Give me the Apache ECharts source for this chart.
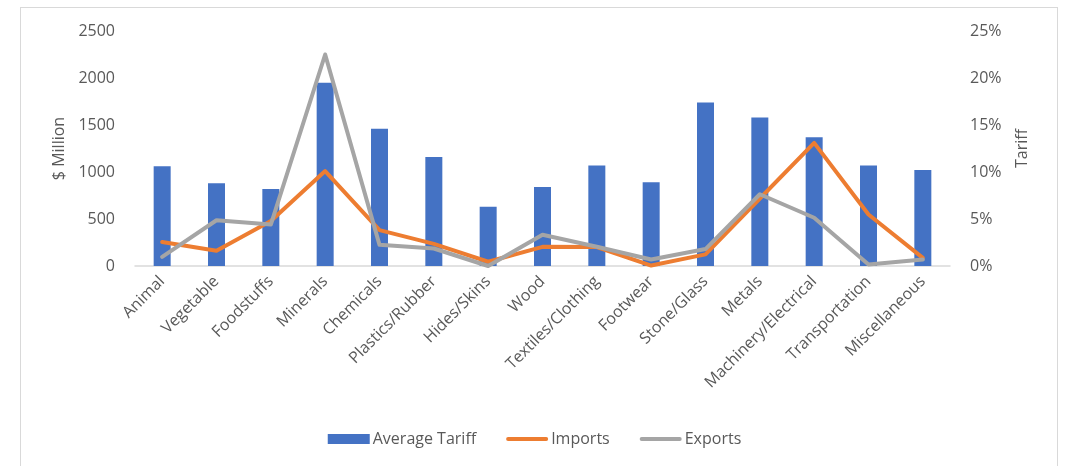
<!DOCTYPE html>
<html>
<head>
<meta charset="utf-8">
<script src="https://cdn.jsdelivr.net/npm/echarts@6/dist/echarts.min.js"></script>
<style>
  html, body { margin: 0; padding: 0; background: #fff; overflow: hidden; }
  #frame { position: absolute; left: 20px; top: 7px; width: 1038px; height: 480px; border: 1px solid #D9D9D9; box-sizing: border-box; }
  #chart { position: absolute; left: 0; top: 0; width: 1069px; height: 466px; }
</style>
</head>
<body>
<div id="frame"></div>
<div id="chart"></div>
<script>
// Product groups along the x axis
const categories = ['Animal', 'Vegetable', 'Foodstuffs', 'Minerals', 'Chemicals', 'Plastics/Rubber',
  'Hides/Skins', 'Wood', 'Textiles/Clothing', 'Footwear', 'Stone/Glass', 'Metals',
  'Machinery/Electrical', 'Transportation', 'Miscellaneous'];

// Average tariff, percent (right axis)
const averageTariff = [10.6, 8.8, 8.2, 19.5, 14.6, 11.6, 6.3, 8.4, 10.7, 8.9, 17.4, 15.8, 13.7, 10.7, 10.2];

// Trade flows, $ million (left axis)
const imports = [255, 162, 478, 1010, 382, 236, 45, 204, 202, 5, 124, 718, 1310, 548, 87];
const exports = [98, 487, 441, 2250, 225, 186, 0, 332, 204, 69, 180, 763, 513, 16, 69];

// Tick settings
const leftMax = 2500, leftStep = 500;
const rightMax = 25, rightStep = 5;

const textColor = '#595959';
const fontFamily = '"Open Sans", "Noto Sans", sans-serif';
const fontSize = 16;

// Thin bar used as the legend icon of the two lines (keeps its aspect ratio)
const lineIcon = 'path://M2,0 L42,0 A2,2 0 0 1 42,4 L2,4 A2,2 0 0 1 2,0 Z';

const chart = echarts.init(document.getElementById('chart'), null, { renderer: 'canvas' });
chart.setOption({
  backgroundColor: 'transparent',
  animation: false,
  textStyle: { fontFamily: fontFamily, color: textColor },
  grid: { left: 135, right: 119, top: 31, bottom: 200 },
  legend: {
    bottom: 14,
    left: 'center',
    itemWidth: 42,
    itemHeight: 10,
    itemGap: 30,
    symbolKeepAspect: true,
    textStyle: { color: textColor, fontSize: fontSize, fontFamily: fontFamily, padding: [0, 0, 0, -2] },
    data: [
      { name: 'Average Tariff', icon: 'rect' },
      { name: 'Imports', icon: lineIcon },
      { name: 'Exports', icon: lineIcon }
    ]
  },
  xAxis: {
    type: 'category',
    data: categories,
    axisLine: { lineStyle: { color: '#D9D9D9', width: 1.5 } },
    axisTick: { show: false },
    axisLabel: { rotate: 45, margin: 13, color: textColor, fontSize: fontSize, fontFamily: fontFamily, interval: 0 }
  },
  yAxis: [
    {
      type: 'value',
      min: 0, max: leftMax, interval: leftStep,
      name: '$ Million',
      nameLocation: 'middle',
      nameRotate: 90,
      nameGap: 62,
      nameTextStyle: { color: textColor, fontSize: fontSize, fontFamily: fontFamily },
      axisLine: { show: false },
      axisTick: { show: false },
      splitLine: { show: false },
      axisLabel: { color: textColor, fontSize: fontSize, margin: 20, fontFamily: fontFamily, formatter: function (v) { return String(v); } }
    },
    {
      type: 'value',
      min: 0, max: rightMax, interval: rightStep,
      name: 'Tariff',
      nameLocation: 'middle',
      nameRotate: 90,
      nameGap: 64,
      nameTextStyle: { color: textColor, fontSize: fontSize, fontFamily: fontFamily },
      position: 'right',
      axisLine: { show: false },
      axisTick: { show: false },
      splitLine: { show: false },
      axisLabel: { color: textColor, fontSize: fontSize, margin: 20, formatter: '{value}%', fontFamily: fontFamily }
    }
  ],
  series: [
    {
      name: 'Average Tariff',
      type: 'bar',
      yAxisIndex: 1,
      data: averageTariff,
      barWidth: 17,
      itemStyle: { color: '#4472C4' }
    },
    {
      name: 'Imports',
      type: 'line',
      yAxisIndex: 0,
      data: imports,
      symbol: 'none',
      lineStyle: { color: '#ED7D31', width: 4, cap: 'round', join: 'round' },
      itemStyle: { color: '#ED7D31' }
    },
    {
      name: 'Exports',
      type: 'line',
      yAxisIndex: 0,
      data: exports,
      symbol: 'none',
      lineStyle: { color: '#A5A5A5', width: 4, cap: 'round', join: 'round' },
      itemStyle: { color: '#A5A5A5' }
    }
  ]
});
</script>
</body>
</html>
